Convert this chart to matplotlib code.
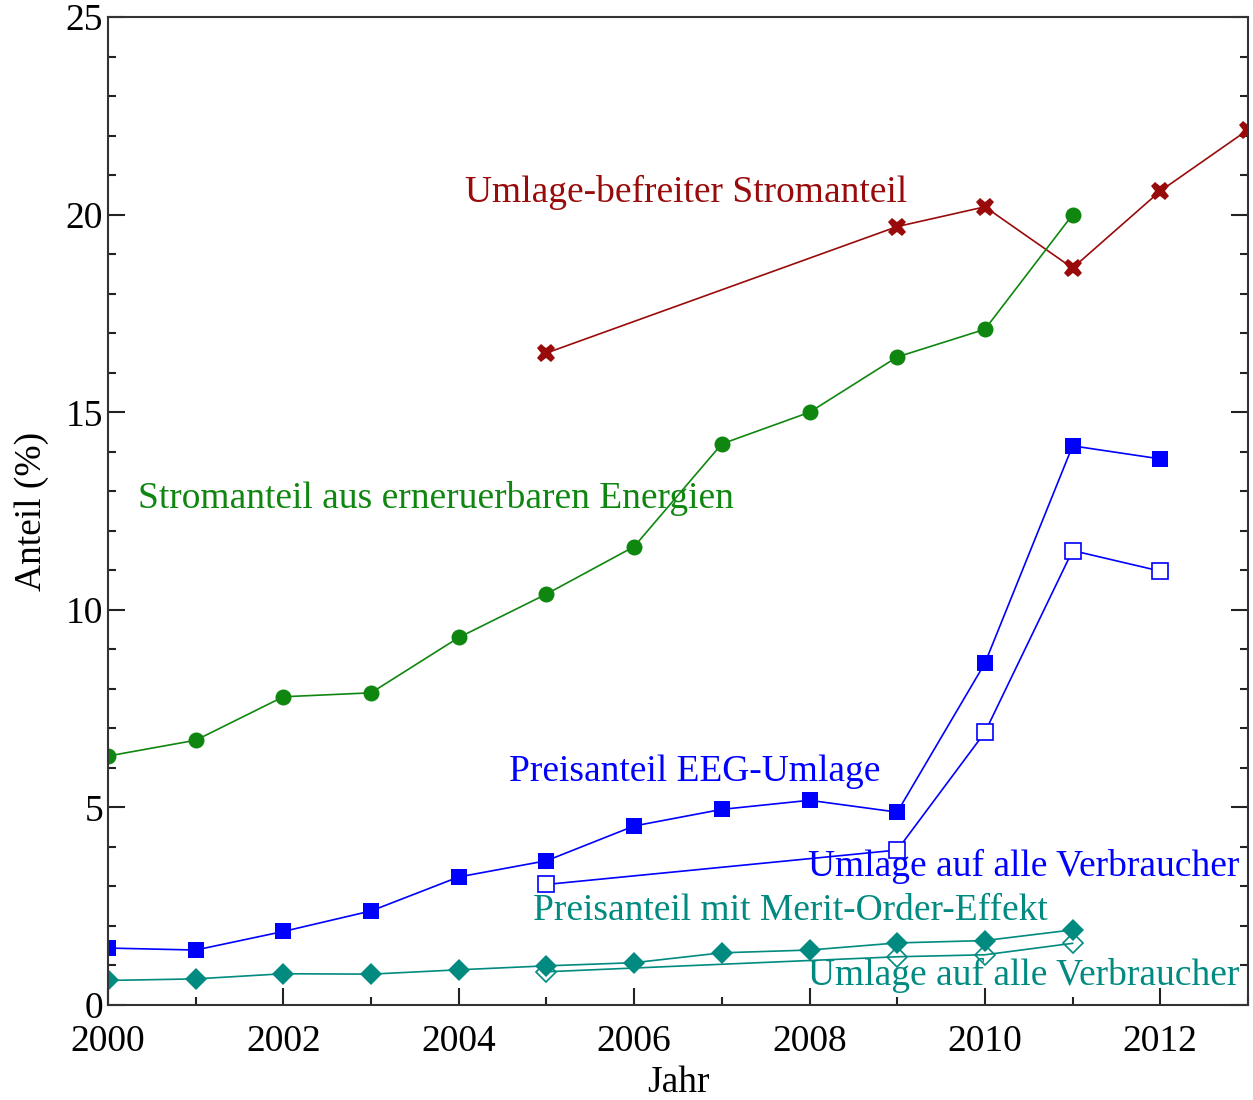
import numpy as np
import matplotlib
matplotlib.use("Agg")
import matplotlib.pyplot as plt
from matplotlib.ticker import MultipleLocator

plt.rcParams['font.family'] = ['Liberation Serif', 'DejaVu Serif']

# data
years_ee = [2000, 2001, 2002, 2003, 2004, 2005, 2006, 2007, 2008, 2009, 2010, 2011]
ee_share = [6.3, 6.7, 7.8, 7.9, 9.3, 10.4, 11.6, 14.2, 15.0, 16.4, 17.1, 20.0]

years_exempt = [2005, 2009, 2010, 2011, 2012, 2013]
exempt_share = [16.5, 19.7, 20.2, 18.65, 20.6, 22.15]

years_eeg = [2000, 2001, 2002, 2003, 2004, 2005, 2006, 2007, 2008, 2009, 2010, 2011, 2012]
eeg_share = [1.44, 1.39, 1.86, 2.38, 3.24, 3.65, 4.53, 4.95, 5.18, 4.88, 8.65, 14.15, 13.82]

years_eeg_all = [2005, 2009, 2010, 2011, 2012]
eeg_all_share = [3.05, 3.92, 6.9, 11.5, 10.98]

years_mo = [2000, 2001, 2002, 2003, 2004, 2005, 2006, 2007, 2008, 2009, 2010, 2011]
mo_share = [0.62, 0.66, 0.79, 0.78, 0.89, 0.99, 1.07, 1.32, 1.39, 1.57, 1.63, 1.9]

years_mo_all = [2005, 2009, 2010, 2011]
mo_all_share = [0.84, 1.22, 1.27, 1.56]

green = '#0f860f'
darkred = '#990a0a'
blue = '#0000ff'
teal = '#008a80'

fig = plt.figure(figsize=(12.53, 11), dpi=100)
ax = fig.add_axes([0.0862, 0.0864, 0.9098, 0.898])

lw = 1.2
ax.plot(years_exempt, exempt_share, color=darkred, lw=lw, marker='X', ms=13, mew=0)
ax.plot(years_ee, ee_share, color=green, lw=lw, marker='o', ms=11.5, mew=0)
ax.plot(years_eeg, eeg_share, color=blue, lw=lw, marker='s', ms=12, mew=0)
ax.plot(years_eeg_all, eeg_all_share, color=blue, lw=lw, marker='s', ms=11,
        mfc='white', mec=blue, mew=1.2)
ax.plot(years_mo, mo_share, color=teal, lw=lw, marker='D', ms=11, mew=0)
ax.plot(years_mo_all, mo_all_share, color=teal, lw=lw, marker='D', ms=10,
        mfc='none', mec=teal, mew=1.2)

fs = 27
ax.text(2004.07, 20.31, 'Umlage-befreiter Stromanteil', color=darkred, fontsize=fs)
ax.text(2000.34, 12.59, 'Stromanteil aus erneruerbaren Energien', color=green, fontsize=fs)
ax.text(2004.57, 5.67, 'Preisanteil EEG-Umlage', color=blue, fontsize=fs)
ax.text(2007.98, 3.27, 'Umlage auf alle Verbraucher', color=blue, fontsize=fs)
ax.text(2004.85, 2.15, 'Preisanteil mit Merit-Order-Effekt', color=teal, fontsize=fs)
ax.text(2007.98, 0.51, 'Umlage auf alle Verbraucher', color=teal, fontsize=fs)

ax.set_xlim(2000, 2013)
ax.set_ylim(0, 25)
ax.xaxis.set_major_locator(MultipleLocator(2))
ax.xaxis.set_minor_locator(MultipleLocator(1))
ax.yaxis.set_major_locator(MultipleLocator(5))
ax.yaxis.set_minor_locator(MultipleLocator(1))
ax.tick_params(which='both', direction='in', width=1.5, color='#222222',
               labelsize=27, right=True)
ax.tick_params(which='major', length=12)
ax.tick_params(which='minor', length=6)
ax.tick_params(axis='x', pad=14)
for s in ax.spines.values():
    s.set_linewidth(1.5)
    s.set_color('#333333')

ax.set_xlabel('Jahr', fontsize=27, labelpad=5)
ax.set_ylabel('Anteil (%)', fontsize=27, labelpad=12)

fig.savefig('out.png', dpi=100)
